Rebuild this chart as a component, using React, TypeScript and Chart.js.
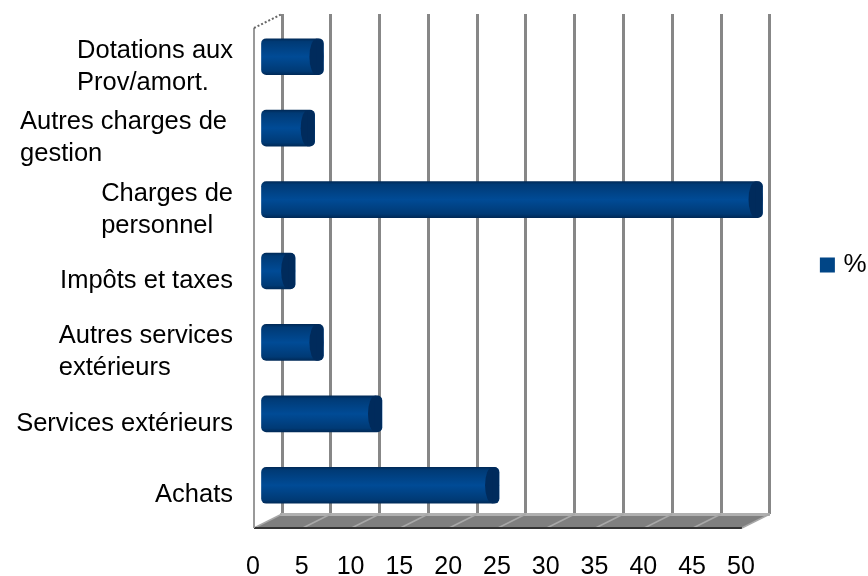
import React, { useEffect, useRef } from "react";
import { Chart, registerables } from "chart.js";

Chart.register(...registerables);

const categories: string[][] = [
  ["Dotations aux", "Prov/amort."],
  ["Autres charges de", "gestion"],
  ["Charges de", "personnel"],
  ["Impôts et taxes"],
  ["Autres services", "extérieurs"],
  ["Services extérieurs"],
  ["Achats"],
];
const percentValues = [6.5, 5.6, 51.5, 3.6, 6.5, 12.5, 24.5];
const xTickStep = 5;
const xMax = 50;
const seriesName = "%";

const FONT = "'Liberation Sans', Arial, sans-serif";
const FONT_SIZE = 25.5;
const DEPTH_X = 28;
const DEPTH_Y = 14;
const BAR_DX = -22;
const BAR_DY = 7;
const BAR_H = 36;
const CAP_W = 14;
const BAR_COLOR = "#004586";
const labelNudge = [0, -6, 0, 0, 0, 0, 0];

const wallsPlugin = {
  id: "walls",
  beforeDatasetsDraw(chart: any) {
    const { ctx, chartArea: a, scales } = chart;
    const x = scales.x;
    ctx.save();
    // floor
    ctx.fillStyle = "#7f7f7f";
    ctx.beginPath();
    ctx.moveTo(a.left, a.bottom);
    ctx.lineTo(a.right, a.bottom);
    ctx.lineTo(a.right - DEPTH_X, a.bottom + DEPTH_Y);
    ctx.lineTo(a.left - DEPTH_X, a.bottom + DEPTH_Y);
    ctx.closePath();
    ctx.fill();
    ctx.fillStyle = "#b0b0b0";
    ctx.fillRect(a.left - 2, a.bottom - 1, a.right - a.left + 2, 3);
    // floor lines follow the value ticks
    ctx.strokeStyle = "#a8a8a8";
    ctx.lineWidth = 1.5;
    x.ticks.forEach((t: any) => {
      const px = x.getPixelForValue(t.value);
      ctx.beginPath();
      ctx.moveTo(px, a.bottom);
      ctx.lineTo(px - DEPTH_X, a.bottom + DEPTH_Y);
      ctx.stroke();
    });
    // front edge
    ctx.strokeStyle = "#333333";
    ctx.lineWidth = 2;
    ctx.beginPath();
    ctx.moveTo(a.left - DEPTH_X, a.bottom + DEPTH_Y);
    ctx.lineTo(a.right - DEPTH_X, a.bottom + DEPTH_Y);
    ctx.stroke();
    // left wall
    ctx.strokeStyle = "#999999";
    ctx.lineWidth = 2;
    ctx.beginPath();
    ctx.moveTo(a.left - DEPTH_X, a.top + DEPTH_Y);
    ctx.lineTo(a.left - DEPTH_X, a.bottom + DEPTH_Y);
    ctx.stroke();
    ctx.strokeStyle = "#666666";
    ctx.setLineDash([2, 2]);
    ctx.lineWidth = 2;
    ctx.beginPath();
    ctx.moveTo(a.left - DEPTH_X, a.top + DEPTH_Y);
    ctx.lineTo(a.left, a.top);
    ctx.stroke();
    ctx.setLineDash([]);
    ctx.restore();
    // shift the bars into the middle of the chart's depth
    ctx.save();
    ctx.translate(BAR_DX, BAR_DY);
  },
  afterDatasetsDraw(chart: any) {
    const { ctx } = chart;
    const meta = chart.getDatasetMeta(0);
    ctx.fillStyle = "#002b5c";
    meta.data.forEach((bar: any) => {
      const r = CAP_W / 2;
      ctx.beginPath();
      ctx.ellipse(bar.x - r, bar.y, r, BAR_H / 2, 0, 0, Math.PI * 2);
      ctx.fill();
      ctx.beginPath();
      ctx.roundRect(bar.x - r, bar.y - BAR_H / 2, r, BAR_H, [0, 5, 5, 0]);
      ctx.fill();
    });
    ctx.restore();
    // category labels: a right-aligned block of left-aligned lines
    const y = chart.scales.y;
    ctx.save();
    ctx.font = `${FONT_SIZE}px ${FONT}`;
    ctx.fillStyle = "#000000";
    ctx.textBaseline = "middle";
    ctx.textAlign = "left";
    const lineH = 32;
    const blockRight = 233;
    categories.forEach((lines, i) => {
      const w = Math.max(...lines.map((l) => ctx.measureText(l).width));
      const cy = y.getPixelForValue(i) + 17;
      lines.forEach((l, k) => {
        ctx.fillText(l, blockRight - w + labelNudge[i], cy + (k - (lines.length - 1) / 2) * lineH);
      });
    });
    ctx.restore();
  },
  afterLayout(chart: any) {
    // legend sits further right and higher than its own box
    const lg = chart.legend;
    if (lg) {
      lg.left += 44.5;
      lg.right += 44.5;
      lg.top -= 30;
      lg.bottom -= 30;
    }
  },
};

export default function App() {
  const ref = useRef<HTMLCanvasElement>(null);
  useEffect(() => {
    const chart = new Chart(ref.current!, {
      type: "bar",
      data: {
        labels: categories,
        datasets: [
          {
            label: seriesName,
            data: percentValues,
            clip: false,
            barThickness: BAR_H,
            borderRadius: 5,
            borderSkipped: false,
            backgroundColor: (c: any) => {
              if (c.dataIndex === undefined || !c.chart.scales.y) return BAR_COLOR;
              const cy = c.chart.scales.y.getPixelForValue(c.dataIndex);
              if (!Number.isFinite(cy)) return BAR_COLOR;
              const g = c.chart.ctx.createLinearGradient(0, cy - BAR_H / 2, 0, cy + BAR_H / 2);
              g.addColorStop(0, "#002a58");
              g.addColorStop(0.08, "#003a75");
              g.addColorStop(0.5, "#004b96");
              g.addColorStop(0.9, "#003a75");
              g.addColorStop(1, "#002a58");
              return g;
            },
          } as any,
        ],
      },
      options: {
        indexAxis: "y",
        responsive: false,
        animation: false,
        layout: { padding: { top: 14, right: 36, left: 0, bottom: 0 } },
        scales: {
          x: {
            min: 0,
            max: xMax,
            border: { display: false },
            grid: { color: "#878787", lineWidth: 3, drawTicks: false },
            ticks: {
              stepSize: xTickStep,
              autoSkip: false,
              maxRotation: 0,
              labelOffset: -29,
              padding: 38,
              color: "#000000",
              font: { family: FONT, size: 25 },
            },
            afterFit: (s: any) => {
              s.height = 62;
            },
          },
          y: {
            border: { display: false },
            grid: { display: false, drawTicks: false },
            ticks: { display: false },
            afterFit: (s: any) => {
              s.width = 282;
            },
          },
        },
        plugins: {
          tooltip: { enabled: false },
          legend: {
            position: "right",
            labels: {
              boxWidth: 6,
              boxHeight: 6,
              padding: 10,
              color: "#000000",
              font: { family: FONT, size: 26 },
              generateLabels: () => [
                {
                  text: seriesName,
                  fillStyle: BAR_COLOR,
                  strokeStyle: BAR_COLOR,
                  lineWidth: 9,
                  datasetIndex: 0,
                },
              ],
            },
          },
        },
      },
      plugins: [wallsPlugin],
    } as any);
    return () => chart.destroy();
  }, []);
  return (
    <div style={{ position: "absolute", left: 0, top: 0, width: 868, height: 576 }}>
      <canvas ref={ref} width={868} height={576} style={{ display: "block" }} />
    </div>
  );
}
